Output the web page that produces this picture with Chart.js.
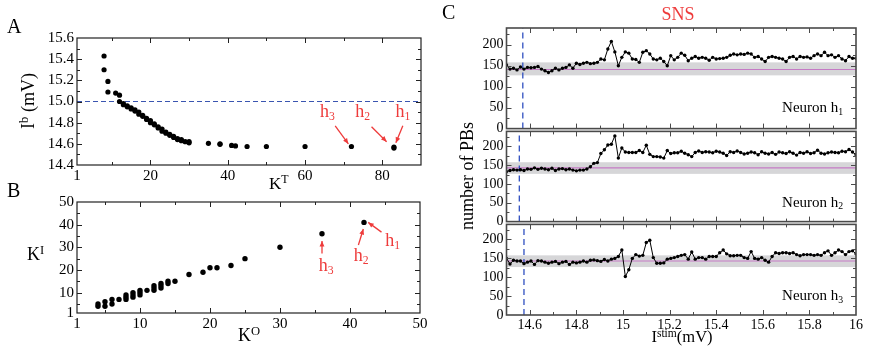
<!DOCTYPE html>
<html><head><meta charset="utf-8">
<script src="https://cdn.jsdelivr.net/npm/chart.js@4/dist/chart.umd.min.js"></script>
<style>
html,body{margin:0;padding:0;background:#fff;}
#wrap{position:relative;width:872px;height:357px;overflow:hidden;background:#fff;}
canvas{position:absolute;}
.t{position:absolute;font-family:'Liberation Serif','Times New Roman',serif;line-height:1;white-space:nowrap;color:#000;}
.t sup{font-size:0.7em;position:relative;top:-0.45em;vertical-align:baseline;line-height:0;}
.t sub{font-size:0.65em;position:relative;top:0.28em;vertical-align:baseline;line-height:0;}
</style></head><body><div id="wrap"></div>
<script>
// ---------------- DATA ----------------
// Panel A : total degree K^T vs bifurcation current I^b (mV)
const kT = [8,8,9,9,11,12,12,13,13,14,14,15,15,16,16,17,17,18,18,19,19,20,20,21,21,22,22,23,23,24,24,25,25,26,26,27,27,28,28,29,30,30,35,38,38,41,42,45,50,60,72,83,83];
const iB = [15.43,15.30,15.19,15.09,15.08,15.06,15.00,14.98,14.97,14.96,14.95,14.94,14.93,14.92,14.91,14.90,14.88,14.87,14.86,14.84,14.83,14.82,14.80,14.79,14.78,14.76,14.75,14.74,14.72,14.71,14.70,14.69,14.68,14.67,14.66,14.65,14.64,14.64,14.63,14.62,14.62,14.61,14.605,14.60,14.595,14.585,14.58,14.575,14.575,14.575,14.575,14.57,14.56];
const ibThreshold = 15.0;
const aXTickLabels = [1,20,40,60,80];
const aYTickLabels = [14.4,14.6,14.8,15.0,15.2,15.4,15.6];

// Panel B : out-degree K^O vs in-degree K^I
const kO = [4,4,5,5,6,6,7,8,8,8,9,9,9,10,10,10,11,12,12,12,13,13,13,14,14,15,17,19,20,21,23,25,30,36,42];
const kI = [4,5,4,6,5,7,7,7,8,9,8,9,10,9,10,11,11,11,12,13,12,13,14,14,15,15,18,19,21,21,22,25,30,36,41];
const bTickLabels = [1,10,20,30,40,50];

// Panel C : number of PBs vs I^stim for hub neurons h1, h2, h3
const h1 = [152,142,144,140,147,142,146,145,146,148,142,138,134,138,144,140,144,146,152,144,156,153,156,
  158,155,156,158,166,164,190,208,183,150,170,183,180,166,165,158,182,186,178,166,164,168,160,150,174,164,170,180,
  175,162,168,172,168,170,168,163,170,166,167,168,170,175,178,176,178,177,180,178,170,172,166,160,170,
  172,170,168,166,160,170,172,166,172,170,171,168,174,178,174,182,174,176,170,174,166,162,172,168,168];
const h2 = [133,136,138,137,138,136,140,139,143,139,142,140,138,142,136,140,141,138,140,137,135,137,137,140,146,
  155,157,181,191,204,206,228,169,196,185,184,184,184,189,184,203,179,173,173,172,169,189,181,183,183,187,
  182,178,173,184,188,184,186,185,183,187,185,182,176,186,184,188,184,180,182,185,183,178,186,182,180,
  184,179,185,183,181,186,182,177,184,182,186,181,183,190,182,180,183,185,184,183,187,186,192,185,178];
const h3 = [150,135,145,143,143,136,140,143,134,144,143,140,137,140,142,136,140,142,134,140,138,140,143,140,145,146,144,142,147,143,148,150,155,
  172,102,120,150,160,156,158,192,198,152,137,137,138,148,150,152,155,158,160,148,167,148,152,152,148,155,155,155,165,172,162,157,157,
  158,158,152,150,168,150,148,152,145,140,155,165,163,165,165,163,165,160,157,160,160,160,158,160,158,165,170,158,165,172,168,160,168,170,162];
const stimStart = 14.5, stimStep = 0.015;
const stim = h1.map((_, i) => +(stimStart + i * stimStep).toFixed(3));
const vLineStim = [14.57, 14.555, 14.575];
const bandLow = 127, bandHigh = 158;
const meanPB = [141, 143, 143];
const cXTickLabels = [14.6,14.8,15,15.2,15.4,15.6,15.8,16];
const cYTickLabels = [0,50,100,150,200];
const neuronNames = ['1','2','3'];

// ---------------- SETUP ----------------
const SERIF = 'Liberation Serif';
const RED = '#ee3b3b';
const wrap = document.getElementById('wrap');
const FR = {};

function mk(id, left, top, w, h){
  const c = document.createElement('canvas');
  c.id = id; c.width = w; c.height = h;
  c.style.left = left + 'px'; c.style.top = top + 'px';
  c.style.width = w + 'px'; c.style.height = h + 'px';
  wrap.appendChild(c); return c;
}
function put(html, x, y, size, opt = {}){
  const d = document.createElement('div'); d.className = 't'; d.innerHTML = html;
  d.style.fontSize = size + 'px';
  if (opt.color) d.style.color = opt.color;
  d.style.left = x + 'px';
  if (opt.rot){ d.style.top = y + 'px'; d.style.transform = 'translate(-50%,-50%) rotate(-90deg)'; }
  else {
    d.style.top = (y - 0.84 * size) + 'px';
    const a = opt.align || 'left';
    d.style.transform = a === 'center' ? 'translateX(-50%)' : a === 'right' ? 'translateX(-100%)' : '';
  }
  wrap.appendChild(d); return d;
}
function arrow(ctx, x0, y0, x1, y1){
  const ang = Math.atan2(y1 - y0, x1 - x0), h = 6, w = 0.42;
  ctx.beginPath(); ctx.moveTo(x0, y0); ctx.lineTo(x1, y1); ctx.stroke();
  ctx.beginPath(); ctx.moveTo(x1, y1);
  ctx.lineTo(x1 - h * Math.cos(ang - w), y1 - h * Math.sin(ang - w));
  ctx.lineTo(x1 - h * Math.cos(ang + w), y1 - h * Math.sin(ang + w));
  ctx.closePath(); ctx.fill();
}

const framePlugin = {
  id: 'frameTicks',
  beforeDatasetsDraw(chart){
    const f = FR[chart.canvas.id]; if (!f || !f.band) return;
    const {ctx, chartArea: a, scales: {y}} = chart;
    const yt = y.getPixelForValue(f.band[1]), yb = y.getPixelForValue(f.band[0]);
    ctx.save(); ctx.fillStyle = f.bandColor; ctx.fillRect(a.left, yt, a.right - a.left, yb - yt); ctx.restore();
  },
  afterDraw(chart){
    const f = FR[chart.canvas.id]; if (!f) return;
    const {ctx, chartArea: a, scales: {x, y}} = chart;
    ctx.save();
    ctx.strokeStyle = f.color; ctx.lineWidth = f.tickWidth || 1;
    ctx.beginPath();
    const vx = (vals, len) => vals.forEach(v => { const p = Math.round(x.getPixelForValue(v)) + 0.5;
      ctx.moveTo(p, a.bottom); ctx.lineTo(p, a.bottom - len); ctx.moveTo(p, a.top); ctx.lineTo(p, a.top + len); });
    const vy = (vals, len) => vals.forEach(v => { const p = Math.round(y.getPixelForValue(v)) + 0.5;
      ctx.moveTo(a.left, p); ctx.lineTo(a.left + len, p); ctx.moveTo(a.right, p); ctx.lineTo(a.right - len, p); });
    vx(f.xMajor, f.majorLen); vx(f.xMinor, f.minorLen); vy(f.yMajor, f.majorLen); vy(f.yMinor, f.minorLen);
    ctx.stroke();
    ctx.lineWidth = f.width;
    ctx.strokeRect(a.left, a.top, a.right - a.left, a.bottom - a.top);
    if (f.arrows){
      ctx.strokeStyle = RED; ctx.fillStyle = RED; ctx.lineWidth = 1.3;
      f.arrows.forEach(r => arrow(ctx, x.getPixelForValue(r[0]), y.getPixelForValue(r[1]), x.getPixelForValue(r[2]), y.getPixelForValue(r[3])));
    }
    ctx.restore();
  }
};

function opts(c){
  return {
    responsive: false, animation: false, devicePixelRatio: 1,
    layout: {padding: c.padding},
    plugins: {legend: {display: false}, tooltip: {enabled: false}},
    scales: {
      x: {type: 'linear', min: c.xMin, max: c.xMax, display: c.xShow !== false,
        grid: {display: false, drawTicks: false}, border: {display: false},
        ticks: {padding: c.xPad, font: {size: c.xFont, family: SERIF}, color: '#000', maxRotation: 0, autoSkip: false,
          callback: v => String(v)},
        afterBuildTicks: s => { s.ticks = c.xLabels.map(v => ({value: v})); },
        afterFit: s => { s.height = c.xHeight; }
      },
      y: {type: 'linear', min: c.yMin, max: c.yMax,
        grid: {display: false, drawTicks: false}, border: {display: false},
        ticks: {padding: c.yPad, font: {size: c.yFont, family: SERIF}, color: '#000', autoSkip: false,
          callback: c.yFmt || (v => String(v))},
        afterBuildTicks: s => { s.ticks = c.yLabels.map(v => ({value: v})); },
        afterFit: s => { s.width = c.yWidth; }
      }
    }
  };
}

function build(){
  Chart.defaults.font.family = SERIF;
  Chart.defaults.color = '#000';
  Chart.register(framePlugin);

  // ---------------- PANEL A ----------------
  const cA = mk('cA', 0, 0, 440, 190);
  FR.cA = {color: '#222', width: 1.2, majorLen: 5, minorLen: 3,
    xMajor: [20,40,60,80], xMinor: [10,30,50,70],
    yMajor: [14.6,14.8,15.0,15.2,15.4], yMinor: [14.5,14.7,14.9,15.1,15.3,15.5],
    arrows: [[67.8,14.769,71.2,14.60],[77.2,14.762,81.1,14.62],[85.3,14.77,83.5,14.61]]};
  const chA = new Chart(cA, {
    type: 'scatter',
    data: {datasets: [
      {data: kT.map((x, i) => ({x, y: iB[i]})), pointRadius: 2.6, pointBackgroundColor: '#000', pointBorderWidth: 0},
      {data: [{x: 1, y: ibThreshold}, {x: 90, y: ibThreshold}], showLine: true, borderColor: '#3a55b0', borderWidth: 1,
        borderDash: [5, 3], pointRadius: 0}
    ]},
    options: opts({padding: {top: 38, right: 19, left: 0, bottom: 0}, xMin: 1, xMax: 90, yMin: 14.4, yMax: 15.6,
      xLabels: aXTickLabels, yLabels: aYTickLabels, yFmt: v => v.toFixed(1), xFont: 15, yFont: 15, xPad: 2, yPad: 3,
      xHeight: 25, yWidth: 77})
  });

  // ---------------- PANEL B ----------------
  const cB = mk('cB', 0, 190, 440, 167);
  FR.cB = {color: '#222', width: 1.2, majorLen: 5, minorLen: 3,
    xMajor: [10,20,30,40], xMinor: [5,15,25,35,45],
    yMajor: [10,20,30,40], yMinor: [5,15,25,35,45],
    arrows: [[36,27.3,36,32.8],[41.2,31.0,41.9,38.1],[44.5,36.7,42.6,41.0]]};
  const chB = new Chart(cB, {
    type: 'scatter',
    data: {datasets: [
      {data: kO.map((x, i) => ({x, y: kI[i]})), pointRadius: 2.7, pointBackgroundColor: '#000', pointBorderWidth: 0}
    ]},
    options: opts({padding: {top: 9, right: 20, left: 0, bottom: 0}, xMin: 1, xMax: 50, yMin: 1, yMax: 50,
      xLabels: bTickLabels, yLabels: bTickLabels, xFont: 15, yFont: 15, xPad: 2, yPad: 3,
      xHeight: 44, yWidth: 77})
  });

  // ---------------- PANEL C ----------------
  const series = [h1, h2, h3];
  const cGeom = [
    {top: 0, h: 140, pad: {top: 28, right: 16, left: 0, bottom: 10}, xShow: false, xHeight: 0},
    {top: 120, h: 113, pad: {top: 10, right: 16, left: 0, bottom: 10}, xShow: false, xHeight: 0},
    {top: 213, h: 144, pad: {top: 10, right: 16, left: 0, bottom: 0}, xShow: true, xHeight: 42}
  ];
  const chC = [];
  series.forEach((s, k) => {
    const g = cGeom[k];
    const id = 'cC' + k;
    const cv = mk(id, 440, g.top, 432, g.h);
    FR[id] = {color: '#4a4a4a', width: 1.6, majorLen: 5, minorLen: 3,
      xMajor: [14.6,14.8,15,15.2,15.4,15.6,15.8], xMinor: [14.7,14.9,15.1,15.3,15.5,15.7,15.9],
      yMajor: [50,100,150,200], yMinor: [25,75,125,175,225],
      band: [bandLow, bandHigh], bandColor: '#d6d6d8'};
    chC.push(new Chart(cv, {
      type: 'scatter',
      data: {datasets: [
        {data: stim.map((x, i) => ({x, y: s[i]})), showLine: true, borderColor: '#000', borderWidth: 1,
          pointRadius: 1.7, pointBackgroundColor: '#000', pointBorderWidth: 0},
        {data: [{x: vLineStim[k], y: 0}, {x: vLineStim[k], y: 240}], showLine: true, borderColor: '#2f4fc0',
          borderWidth: 1.3, borderDash: [6, 4], pointRadius: 0},
        {data: [{x: 14.5, y: meanPB[k]}, {x: 16, y: meanPB[k]}], showLine: true, borderColor: '#c57ac5',
          borderWidth: 1.2, pointRadius: 0}
      ]},
      options: opts({padding: g.pad, xMin: 14.5, xMax: 16, yMin: 0, yMax: 240, xShow: g.xShow,
        xLabels: cXTickLabels, yLabels: cYTickLabels, xFont: 14, yFont: 14, xPad: 2, yPad: 3,
        xHeight: g.xHeight, yWidth: 66.5})
    }));
  });

  // ---------------- TEXT ----------------
  put('A', 7, 33, 20);
  put('B', 7, 197, 20);
  put('C', 442, 19, 20);
  put('SNS', 678, 20, 18, {align: 'center', color: RED});
  put('I<sup>b</sup> (mV)', 28, 101, 18, {rot: true});
  put('K<sup>T</sup>', 269, 189, 17);
  put('K<sup>I</sup>', 27, 260, 18);
  put('K<sup>O</sup>', 238, 341, 18);
  put('number of PBs', 467, 176, 18, {rot: true});
  put('I<sup>stim</sup>(mV)', 682, 343, 16.5, {align: 'center'});

  const annA = [['3', 65.8, 14.853], ['2', 74.9, 14.853], ['1', 85.3, 14.853]];
  annA.forEach(a => put('h<sub>' + a[0] + '</sub>', chA.scales.x.getPixelForValue(a[1]), chA.scales.y.getPixelForValue(a[2]), 18, {align: 'center', color: RED}));
  const annB = [['3', 36.6, 19.6], ['2', 41.6, 23.8], ['1', 46.1, 30.7]];
  annB.forEach(a => put('h<sub>' + a[0] + '</sub>', chB.scales.x.getPixelForValue(a[1]), 190 + chB.scales.y.getPixelForValue(a[2]), 18, {align: 'center', color: RED}));
  chC.forEach((ch, k) => {
    put('Neuron h<sub>' + neuronNames[k] + '</sub>', 440 + ch.scales.x.getPixelForValue(15.945),
      cGeom[k].top + ch.scales.y.getPixelForValue(38), 15, {align: 'right'});
  });
}

if (document.fonts && document.fonts.load) {
  document.fonts.load('15px "Liberation Serif"').then(build, build);
} else { build(); }
</script></body></html>
